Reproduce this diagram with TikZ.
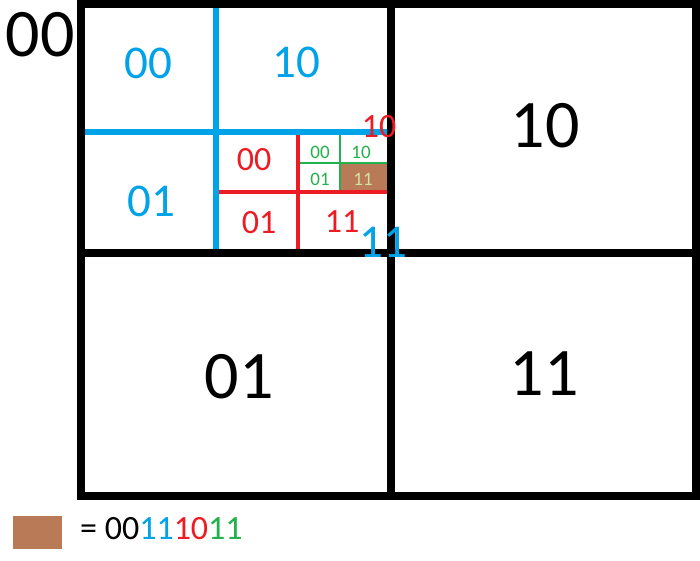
\documentclass[tikz,border=0pt]{standalone}
\usepackage{fontspec}
\setmainfont{Carlito}
\definecolor{qblue}{HTML}{00A2E8}
\definecolor{qred}{HTML}{ED1C24}
\definecolor{qgreen}{HTML}{22B14C}
\definecolor{qbrown}{HTML}{B97A57}
\definecolor{qpale}{HTML}{D2E4A2}
\tikzset{
  lvA/.style={line width=8.5pt,black,line cap=rect},
  lvB/.style={line width=5.5pt,qblue},
  lvC/.style={line width=3.5pt,qred},
  lvD/.style={line width=1.4pt,qgreen},
  tA/.style={inner sep=0pt,font=\fontsize{68}{68}\selectfont,text=black},
  tB/.style={inner sep=0pt,font=\fontsize{47}{47}\selectfont,text=qblue},
  tC/.style={inner sep=0pt,font=\fontsize{34}{34}\selectfont,text=qred},
  tD/.style={inner sep=0pt,font=\fontsize{19}{19}\selectfont,text=qgreen},
}
\begin{document}
\begin{tikzpicture}[x=1pt,y=-1pt]
\useasboundingbox[fill=white] (0,0) rectangle (700,560);
% brown cell
\fill[qbrown] (340,163) rectangle (387,192);
% green lines
\draw[lvD] (340,132) -- (340,192);
\draw[lvD] (298,163) -- (387,163);
% red lines
\draw[lvC] (298,132) -- (298,252);
\draw[lvC] (216,192) -- (388,192);
% blue lines
\draw[lvB] (216,4) -- (216,252);
\draw[lvB] (81,132) -- (390,132);
% black lines
\draw[lvA] (81,4) rectangle (696,496);
\draw[lvA] (391,4) -- (391,496);
\draw[lvA] (81,253) -- (696,253);
% black labels
\node[tA] (k00) at (40,35) {00};
\node[tA] (k10) at (545,126) {10};
\node[tA] (k01) at (239,377) {01};
\node[tA] (k11) at (544,374) {11};
% blue labels
\node[tB] (b00) at (148,63) {00};
\node[tB] (b10) at (296,62) {10};
\node[tB] (b01) at (151,201) {01};
\node[tB] (b11) at (383,242) {11};
% red labels
\node[tC] (r00) at (254,160) {00};
\node[tC] (r01) at (259,223) {01};
\node[tC] (r11) at (342,222) {11};
\node[tC] (r10) at (379,127) {10};
% green labels
\node[tD] (g00) at (320,152) {00};
\node[tD] (g10) at (361,152) {10};
\node[tD] (g01) at (320,179) {01};
\node[tD,text=qpale] (g11) at (363,179) {11};
% legend
\fill[qbrown] (13,516) rectangle (62,549);
\node[inner sep=0pt,anchor=west,font=\fontsize{34}{34}\selectfont] (leg) at (80,529)
  {= 00\textcolor{qblue}{11}\textcolor{qred}{10}\textcolor{qgreen}{11}};
\end{tikzpicture}
\end{document}
